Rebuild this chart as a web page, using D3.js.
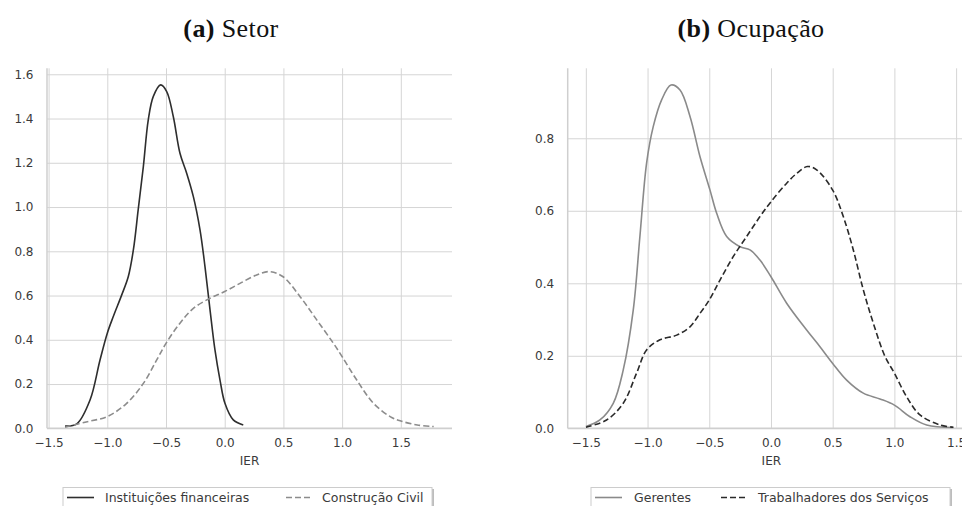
<!DOCTYPE html>
<html>
<head>
<meta charset="utf-8">
<script src="https://cdn.jsdelivr.net/npm/d3@7"></script>
<style>
  body { margin: 0; background: #fff; }
  svg { display: block; }
  .tick text { font-family: "DejaVu Sans", sans-serif; font-size: 12px; fill: #3a3a3a; }
  .grid line { stroke: #d5d5d5; stroke-width: 1; }
  .label { font-family: "DejaVu Sans", sans-serif; font-size: 12px; fill: #3a3a3a; }
  .leg { font-family: "DejaVu Sans", sans-serif; font-size: 12.5px; fill: #3a3a3a; }
  .title { font-family: "Liberation Serif", serif; font-size: 26px; fill: #111; letter-spacing: 0.4px; }
</style>
</head>
<body>
<svg id="chart" width="962" height="506"></svg>
<script>
// (a) Setor
var finX = [-1.36, -1.26, -1.147, -1.062, -1.0, -0.949, -0.877, -0.821, -0.778, -0.737, -0.693, -0.651, -0.608, -0.545, -0.494, -0.438, -0.381, -0.324, -0.267, -0.21, -0.168, -0.125, -0.083, -0.04, 0.002, 0.073, 0.158];
var finY = [0.01, 0.02, 0.128, 0.309, 0.43, 0.505, 0.603, 0.686, 0.806, 0.987, 1.183, 1.394, 1.50, 1.552, 1.522, 1.409, 1.243, 1.153, 1.047, 0.896, 0.731, 0.535, 0.354, 0.218, 0.113, 0.038, 0.015];
var civX = [-1.36, -1.17, -1.0, -0.835, -0.693, -0.579, -0.5, -0.381, -0.267, -0.125, 0.0, 0.13, 0.272, 0.38, 0.494, 0.642, 0.784, 0.926, 1.0, 1.125, 1.267, 1.409, 1.5, 1.64, 1.78];
var civY = [0.005, 0.03, 0.053, 0.113, 0.203, 0.309, 0.384, 0.475, 0.542, 0.588, 0.618, 0.655, 0.693, 0.708, 0.686, 0.595, 0.49, 0.384, 0.324, 0.218, 0.113, 0.053, 0.033, 0.015, 0.008];

// (b) Ocupação
var gerX = [-1.499, -1.386, -1.278, -1.197, -1.116, -1.062, -1.008, -0.954, -0.886, -0.81, -0.737, -0.656, -0.575, -0.494, -0.44, -0.359, -0.251, -0.17, -0.089, 0.0, 0.127, 0.289, 0.397, 0.5, 0.613, 0.748, 0.883, 1.0, 1.126, 1.261, 1.478];
var gerY = [0.005, 0.023, 0.069, 0.161, 0.326, 0.529, 0.731, 0.832, 0.906, 0.947, 0.933, 0.86, 0.749, 0.657, 0.593, 0.529, 0.501, 0.492, 0.464, 0.418, 0.345, 0.271, 0.225, 0.179, 0.133, 0.097, 0.081, 0.064, 0.032, 0.009, 0.002];
var trabX = [-1.499, -1.332, -1.197, -1.089, -1.008, -0.9, -0.764, -0.656, -0.575, -0.5, -0.413, -0.305, -0.197, -0.089, 0.0, 0.127, 0.208, 0.294, 0.37, 0.5, 0.586, 0.667, 0.748, 0.829, 0.924, 1.0, 1.099, 1.207, 1.37, 1.478];
var trabY = [0.003, 0.023, 0.069, 0.152, 0.216, 0.244, 0.257, 0.28, 0.317, 0.354, 0.409, 0.474, 0.529, 0.584, 0.625, 0.676, 0.703, 0.722, 0.713, 0.657, 0.584, 0.492, 0.382, 0.29, 0.198, 0.152, 0.087, 0.037, 0.009, 0.003];

var xTicks = [-1.5, -1.0, -0.5, 0.0, 0.5, 1.0, 1.5];
var yTicksA = [0.0, 0.2, 0.4, 0.6, 0.8, 1.0, 1.2, 1.4, 1.6];
var yTicksB = [0.0, 0.2, 0.4, 0.6, 0.8];

var svg = d3.select("#chart");
var fmt = function (d) { return d3.format(".1f")(d).replace("-", "\u2212"); };

function zip(xs, ys) {
  return xs.map(function (x, i) { return { x: x, y: ys[i] }; });
}

function Panel(opts) {
  var x = d3.scaleLinear().domain(opts.xDomain).range([opts.left, opts.right]);
  var y = d3.scaleLinear().domain(opts.yDomain).range([opts.bottom, opts.top]);
  var g = svg.append("g");

  // grid
  g.append("g")
    .attr("class", "grid")
    .attr("transform", "translate(0," + opts.bottom + ")")
    .call(d3.axisBottom(x).tickValues(xTicks).tickSize(-(opts.bottom - opts.top)).tickFormat(""))
    .call(s => s.select(".domain").remove());
  g.append("g")
    .attr("class", "grid")
    .attr("transform", "translate(" + opts.left + ",0)")
    .call(d3.axisLeft(y).tickValues(opts.yTicks).tickSize(-(opts.right - opts.left)).tickFormat(""))
    .call(s => s.select(".domain").remove());

  // spines (left + bottom)
  g.append("line")
    .attr("x1", opts.left).attr("x2", opts.left)
    .attr("y1", opts.top).attr("y2", opts.bottom)
    .attr("stroke", "#cfcfcf").attr("stroke-width", 1.5);
  g.append("line")
    .attr("x1", opts.left).attr("x2", opts.right)
    .attr("y1", opts.bottom).attr("y2", opts.bottom)
    .attr("stroke", "#cfcfcf").attr("stroke-width", 1.5);

  // tick labels
  g.append("g")
    .attr("transform", "translate(0," + opts.bottom + ")")
    .call(d3.axisBottom(x).tickValues(xTicks).tickSize(0).tickPadding(10.5).tickFormat(fmt))
    .call(s => s.select(".domain").remove());
  g.append("g")
    .attr("transform", "translate(" + opts.left + ",0)")
    .call(d3.axisLeft(y).tickValues(opts.yTicks).tickSize(0).tickPadding(13.5).tickFormat(fmt))
    .call(s => s.select(".domain").remove());

  g.append("text")
    .attr("class", "label")
    .attr("x", (opts.left + opts.right) / 2)
    .attr("y", opts.bottom + 37)
    .attr("text-anchor", "middle")
    .text("IER");

  var line = d3.line()
    .x(function (d) { return x(d.x); })
    .y(function (d) { return y(d.y); })
    .curve(d3.curveCatmullRom);

  opts.series.forEach(function (s) {
    g.append("path")
      .attr("d", line(zip(s.xs, s.ys)))
      .attr("fill", "none")
      .attr("stroke", s.color)
      .attr("stroke-width", 1.6)
      .attr("stroke-dasharray", s.dash ? "6,3" : null);
  });

  // title
  var t = svg.append("text")
    .attr("class", "title")
    .attr("x", opts.titleX)
    .attr("y", 37)
    .attr("text-anchor", "middle");
  t.append("tspan").attr("font-weight", "bold").text(opts.tag);
  t.append("tspan").text(" " + opts.title);

  // legend
  var lg = svg.append("g");
  lg.append("rect")
    .attr("x", opts.legX0 + 2).attr("y", 489)
    .attr("width", opts.legX1 - opts.legX0).attr("height", 24)
    .attr("fill", "#bdbdbd");
  lg.append("rect")
    .attr("x", opts.legX0).attr("y", 487.5)
    .attr("width", opts.legX1 - opts.legX0).attr("height", 24)
    .attr("fill", "#fff").attr("stroke", "#cccccc").attr("stroke-width", 1);
  opts.series.forEach(function (s) {
    lg.append("line")
      .attr("x1", s.legLine).attr("x2", s.legLine + 27)
      .attr("y1", 497.5).attr("y2", 497.5)
      .attr("stroke", s.color).attr("stroke-width", 1.6)
      .attr("stroke-dasharray", s.dash ? "6,3" : null);
    lg.append("text")
      .attr("class", "leg")
      .attr("x", s.legText).attr("y", 502)
      .text(s.name);
  });
}

Panel({
  left: 47, right: 452, top: 68.3, bottom: 428.3,
  xDomain: [-1.5136, 1.936], yDomain: [0, 1.627], yTicks: yTicksA,
  titleX: 231, tag: "(a)", title: "Setor",
  legX0: 63, legX1: 432,
  series: [
    { name: "Instituições financeiras", xs: finX, ys: finY, color: "#2e2e2e", dash: false, legLine: 67, legText: 105 },
    { name: "Construção Civil", xs: civX, ys: civY, color: "#8c8c8c", dash: true, legLine: 286, legText: 322 }
  ]
});

Panel({
  left: 567.7, right: 975, top: 68.3, bottom: 428.3,
  xDomain: [-1.647, 1.653], yDomain: [0, 0.993], yTicks: yTicksB,
  titleX: 751, tag: "(b)", title: "Ocupação",
  legX0: 591, legX1: 950,
  series: [
    { name: "Gerentes", xs: gerX, ys: gerY, color: "#8a8a8a", dash: false, legLine: 595, legText: 634 },
    { name: "Trabalhadores dos Serviços", xs: trabX, ys: trabY, color: "#2a2a2a", dash: true, legLine: 721, legText: 758 }
  ]
});
</script>
</body>
</html>
